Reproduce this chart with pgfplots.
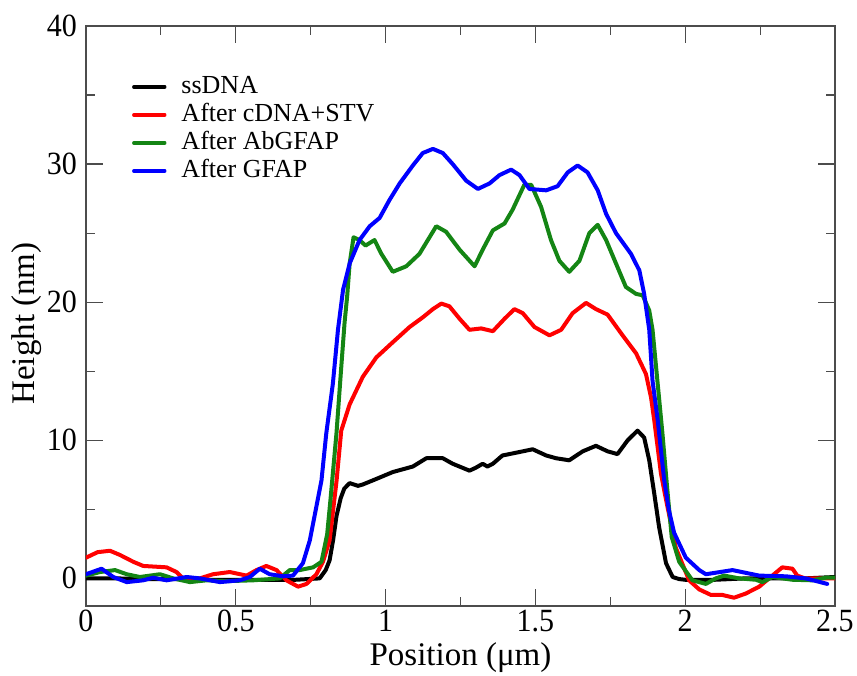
\documentclass[border=0pt]{standalone}
\usepackage{fontspec}
\setmainfont{Liberation Serif}
\usepackage{pgfplots}
\pgfplotsset{compat=1.18}

\definecolor{frame}{rgb}{0.3,0.3,0.3}
\definecolor{cgreen}{rgb}{0.08,0.52,0.08}

\begin{document}
\begin{tikzpicture}
\path[use as bounding box] (0,0) rectangle (428.5pt,337.5pt);
\begin{axis}[
  at={(43pt,34.5pt)}, anchor=south west,
  scale only axis, width=374.5pt, height=290pt,
  xmin=0, xmax=2.5, ymin=-2, ymax=40,
  xtick={0,0.5,...,2.5}, ytick={0,10,...,40},
  minor x tick num=1, minor y tick num=1,
  major tick length=8.5pt, minor tick length=4.5pt,
  tick style={frame, line width=0.6pt},
  axis line style={frame, line width=0.7pt},
  /pgf/number format/assume math mode=true,
  ticklabel style={font=\fontsize{15}{18}\selectfont, yscale=1.08},
  xticklabel style={yshift=1.5pt},
  yticklabel style={xshift=-1pt},
  xlabel={Position (μm)},
  ylabel={Height (nm)},
  label style={font=\fontsize{16.5}{19}\selectfont},
  xlabel style={at={([yshift=-29.8pt]rel axis cs:0.5,0)}, anchor=base},
  ylabel style={at={([xshift=-25.5pt,yshift=-3.75pt]rel axis cs:0,0.5)}, anchor=base, rotate=0},
  legend cell align=left,
  legend style={at={(rel axis cs:0.061,0.916)}, anchor=north west, draw=none, fill=none,
    font=\fontsize{13}{15}\selectfont, inner sep=0pt, column sep=7.5pt, row sep=2.3pt,
    nodes={inner sep=0pt, text height=9.2pt, text depth=2.5pt}},
  legend image code/.code={\draw[#1, line width=1.7pt] (0pt,0pt) -- (15.5pt,0pt);},
  every axis plot/.append style={line width=2pt, line join=round, line cap=round},
]
% ssDNA
\addplot[black] coordinates {
(0,0.0) (0.1,0.0) (0.2,-0.05) (0.3,-0.05) (0.4,-0.1) (0.5,-0.1) (0.6,-0.1) (0.7,-0.1)
(0.78,0.0) (0.80,0.6) (0.813,1.3) (0.825,2.8) (0.836,4.5) (0.85,5.8) (0.862,6.5) (0.88,6.9)
(0.908,6.7) (0.924,6.8) (0.969,7.2) (1.024,7.7) (1.091,8.1) (1.136,8.7) (1.191,8.7) (1.224,8.3)
(1.28,7.8) (1.30,8.0) (1.324,8.3) (1.34,8.1) (1.358,8.3) (1.39,8.9) (1.413,9.0) (1.458,9.2)
(1.491,9.35) (1.536,8.9) (1.569,8.7) (1.613,8.55) (1.658,9.2) (1.702,9.6) (1.741,9.2) (1.774,9.0)
(1.808,10.0) (1.841,10.7) (1.863,10.2) (1.88,8.55) (1.897,6.1) (1.913,3.7) (1.936,1.1) (1.958,0.1)
(1.98,-0.05) (2.0,-0.1) (2.1,-0.1) (2.2,0.0) (2.3,0.0) (2.4,0.0) (2.5,0.1)
};
\addlegendentry{ssDNA}
% after cDNA + streptavidin
\addplot[red] coordinates {
(0,1.5) (0.039,1.9) (0.08,2.0) (0.113,1.7) (0.158,1.2) (0.191,0.9) (0.269,0.8) (0.302,0.46)
(0.324,0.0) (0.38,0.0) (0.424,0.3) (0.48,0.46) (0.536,0.2) (0.569,0.6) (0.602,0.9) (0.636,0.6)
(0.669,-0.14) (0.708,-0.6) (0.736,-0.4) (0.769,0.3) (0.791,1.2) (0.813,2.75) (0.836,7.0) (0.852,10.7)
(0.88,12.6) (0.924,14.6) (0.969,16.0) (1.024,17.1) (1.08,18.2) (1.124,18.9) (1.158,19.5) (1.186,19.9)
(1.213,19.7) (1.247,18.8) (1.28,18.0) (1.319,18.1) (1.358,17.9) (1.397,18.8) (1.43,19.5) (1.458,19.2)
(1.497,18.2) (1.547,17.6) (1.586,18.0) (1.624,19.2) (1.669,19.95) (1.702,19.5) (1.741,19.1) (1.791,17.6)
(1.836,16.3) (1.869,14.8) (1.886,13.1) (1.897,11.4) (1.919,7.6) (1.936,5.7) (1.969,2.2) (2.013,-0.14)
(2.047,-0.8) (2.086,-1.2) (2.124,-1.2) (2.163,-1.4) (2.202,-1.1) (2.247,-0.6) (2.291,0.2) (2.324,0.8)
(2.358,0.7) (2.374,0.2) (2.40,0.0) (2.5,0.0)
};
\addlegendentry{After cDNA+STV}
% after anti-GFAP antibody
\addplot[cgreen] coordinates {
(0,0.2) (0.047,0.46) (0.097,0.6) (0.136,0.3) (0.18,0.1) (0.247,0.3) (0.291,0.0) (0.347,-0.27)
(0.402,-0.14) (0.469,-0.2) (0.558,-0.14) (0.647,0.0) (0.68,0.6) (0.713,0.6) (0.758,0.8) (0.786,1.2)
(0.805,3.2) (0.816,5.7) (0.836,10.5) (0.852,15.3) (0.863,18.5) (0.872,20.5) (0.88,22.8) (0.893,24.7)
(0.913,24.5) (0.933,24.1) (0.963,24.5) (0.986,23.5) (1.024,22.2) (1.069,22.6) (1.113,23.5) (1.169,25.5)
(1.202,25.1) (1.247,23.8) (1.297,22.6) (1.324,23.8) (1.358,25.2) (1.397,25.7) (1.424,26.7) (1.463,28.5)
(1.486,28.5) (1.519,26.9) (1.552,24.5) (1.58,23.0) (1.613,22.2) (1.647,23.0) (1.68,25.0) (1.708,25.6)
(1.736,24.5) (1.769,22.8) (1.802,21.1) (1.836,20.6) (1.858,20.5) (1.88,19.4) (1.891,18.0) (1.924,10.5)
(1.94,6.5) (1.955,3.0) (1.98,1.2) (2.024,-0.14) (2.069,-0.4) (2.102,0.0) (2.13,0.2) (2.18,0.0)
(2.236,-0.1) (2.258,-0.27) (2.291,0.1) (2.358,-0.1) (2.424,-0.14) (2.469,0.05) (2.5,0.05)
};
\addlegendentry{After AbGFAP}
% after GFAP
\addplot[blue] coordinates {
(0,0.3) (0.052,0.7) (0.091,0.1) (0.136,-0.27) (0.191,-0.14) (0.224,0.05) (0.269,-0.14) (0.336,0.1)
(0.38,0.0) (0.447,-0.27) (0.513,-0.14) (0.547,0.1) (0.58,0.7) (0.613,0.3) (0.658,0.15) (0.691,0.2)
(0.724,1.1) (0.747,2.75) (0.769,5.2) (0.786,7.1) (0.802,10.5) (0.824,14.1) (0.841,18.0) (0.858,20.9)
(0.88,22.8) (0.913,24.5) (0.947,25.5) (0.98,26.1) (1.013,27.4) (1.047,28.6) (1.091,29.9) (1.124,30.8)
(1.158,31.1) (1.191,30.8) (1.224,30.0) (1.269,28.8) (1.308,28.2) (1.347,28.6) (1.38,29.2) (1.419,29.6)
(1.447,29.2) (1.48,28.2) (1.536,28.1) (1.574,28.4) (1.608,29.4) (1.641,29.9) (1.674,29.4) (1.708,28.1)
(1.736,26.4) (1.769,25.0) (1.819,23.5) (1.847,22.3) (1.863,20.6) (1.88,18.0) (1.891,14.3) (1.908,11.5)
(1.93,7.1) (1.945,5.0) (1.963,3.3) (2.002,1.5) (2.047,0.6) (2.069,0.3) (2.158,0.6) (2.247,0.2)
(2.336,0.15) (2.402,0.0) (2.474,-0.4)
};
\addlegendentry{After GFAP}
\end{axis}
\end{tikzpicture}
\end{document}
